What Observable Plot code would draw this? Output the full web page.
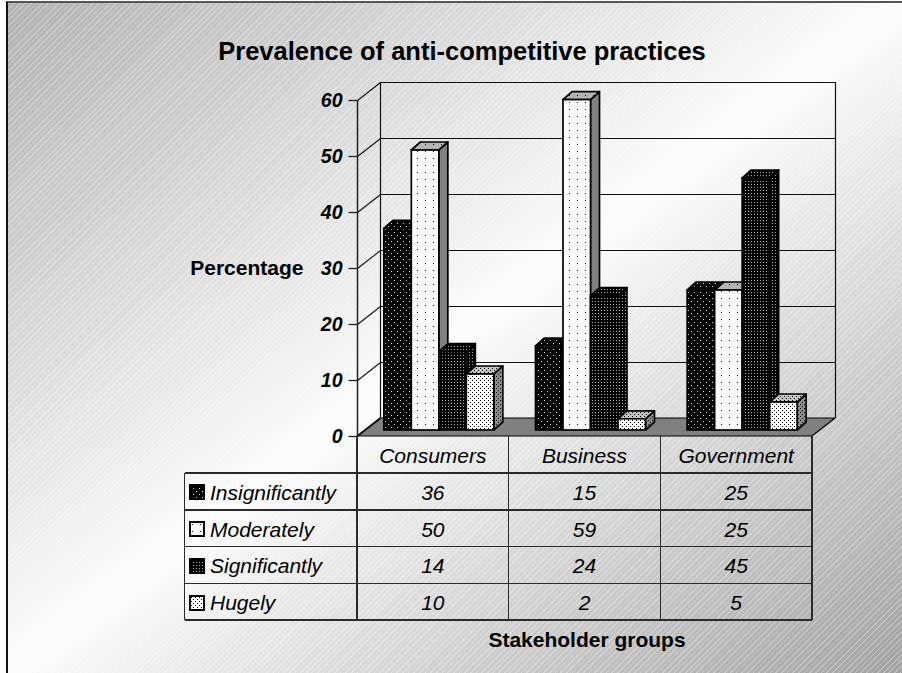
<!DOCTYPE html>
<html><head><meta charset="utf-8">
<script src="https://cdn.jsdelivr.net/npm/d3@7"></script>
<script src="https://cdn.jsdelivr.net/npm/@observablehq/plot@0.6"></script>
<style>
html,body{margin:0;padding:0;}
body{width:902px;height:673px;overflow:hidden;position:relative;font-family:"Liberation Sans",Arial,sans-serif;background:#fff;}
#bg{position:absolute;left:6px;top:1px;right:0;bottom:0;
 background:
  repeating-linear-gradient(135deg, rgba(255,255,255,0.30) 0px, rgba(255,255,255,0.30) 1.2px, rgba(255,255,255,0) 1.2px, rgba(255,255,255,0) 4px),
  linear-gradient(to bottom right, #b0b0b0 0%, #fcfcfc 50%, #a0a0a0 100%);
 border-left:2px solid #111;border-top:2px solid #555;}
#chart{position:absolute;left:0;top:0;}
#chart svg{overflow:visible;}
.ln{position:absolute;background:#2a2a2a;}
.tx{position:absolute;font-style:italic;font-size:21px;color:#000;white-space:nowrap;line-height:1;}
.sw{position:absolute;}
</style></head>
<body>
<svg width="0" height="0" style="position:absolute">
 <defs>
  <pattern id="pI" width="6" height="6" patternUnits="userSpaceOnUse"><rect width="6" height="6" fill="#000"/><rect x="1" y="1" width="1" height="1" fill="#ddd"/><rect x="4" y="4" width="1" height="1" fill="#ddd"/></pattern>
  <pattern id="pM" width="8" height="7" patternUnits="userSpaceOnUse"><rect width="8" height="7" fill="#fff"/><rect x="3" y="3" width="1" height="1" fill="#000"/></pattern>
  <pattern id="pS" width="3" height="3" patternUnits="userSpaceOnUse"><rect width="3" height="3" fill="#000"/><rect x="1" y="1" width="1" height="1" fill="#aaa"/></pattern>
  <pattern id="pH" width="4" height="4" patternUnits="userSpaceOnUse"><rect width="4" height="4" fill="#fff"/><rect x="0" y="0" width="1" height="1" fill="#000"/><rect x="2" y="2" width="1" height="1" fill="#000"/></pattern>
  <pattern id="pMt" width="8" height="7" patternUnits="userSpaceOnUse"><rect width="8" height="7" fill="#b4b4b4"/><rect x="3" y="3" width="1" height="1" fill="#000"/></pattern>
  <pattern id="pHt" width="4" height="4" patternUnits="userSpaceOnUse"><rect width="4" height="4" fill="#c4c4c4"/><rect x="0" y="0" width="1" height="1" fill="#000"/><rect x="2" y="2" width="1" height="1" fill="#000"/></pattern>
  <pattern id="pHs" width="4" height="4" patternUnits="userSpaceOnUse"><rect width="4" height="4" fill="#8c8c8c"/><rect x="0" y="0" width="1" height="1" fill="#000"/><rect x="2" y="2" width="1" height="1" fill="#000"/></pattern>
 </defs>
</svg>
<div id="bg"></div>
<div id="chart"></div>
<div id="table"></div>
<script>
// ---- data ----
const groups = ["Consumers", "Business", "Government"];
const series = ["Insignificantly", "Moderately", "Significantly", "Hugely"];
const insignificantly = [36, 15, 25];
const moderately = [50, 59, 25];
const significantly = [14, 24, 45];
const hugely = [10, 2, 5];
const yTicks = [0, 10, 20, 30, 40, 50, 60];
const title = "Prevalence of anti-competitive practices";
const yLabel = "Percentage";
const xLabel = "Stakeholder groups";

// ---- styles per series ----
const frontFill = ["url(#pI)", "url(#pM)", "url(#pS)", "url(#pH)"];
const topFill   = ["url(#pI)", "url(#pMt)", "url(#pS)", "url(#pHt)"];
const sideFill  = ["url(#pI)", "#808080", "url(#pS)", "url(#pHs)"];

// ---- layout ----
const W = 902, H = 673;
const mL = 357, mR = 90, mT = 100, mB = 237;
const yMax = 60;
const pxX = (W - mL - mR) / groups.length;
const pxY = (H - mT - mB) / yMax;
const wallDX = 23 / pxX, wallDY = 18 / pxY;
const barDX = 9 / pxX, barDY = 8 / pxY;
const barW = 27.5 / pxX;
const pad = (1 - series.length * barW) / 2;
const tickLen = 9 / pxX;

const values = [insignificantly, moderately, significantly, hugely];
const bars = [];
series.forEach((s, j) => groups.forEach((g, i) => {
  const x1 = i + pad + j * barW;
  bars.push({series: s, j, group: g, i, value: values[j][i], x1, x2: x1 + barW});
}));
const sides = bars.flatMap(b => [
  {id: b.series + b.group, j: b.j, x: b.x2, y1: 0, y2: b.value},
  {id: b.series + b.group, j: b.j, x: b.x2 + barDX, y1: barDY, y2: b.value + barDY}
]);
const tops = bars.flatMap(b => [
  {id: b.series + b.group, j: b.j, y: b.value, x1: b.x1, x2: b.x2},
  {id: b.series + b.group, j: b.j, y: b.value + barDY, x1: b.x1 + barDX, x2: b.x2 + barDX}
]);
const nG = groups.length;
const floor = [{y: 0, x1: 0, x2: nG}, {y: wallDY, x1: wallDX, x2: nG + wallDX}];

const bx = 6, by = -6; // bar plane offset (px)
const marks = [
  Plot.areaX(floor, {y: "y", x1: "x1", x2: "x2", fill: "#808080", stroke: "#000", strokeWidth: 1.2}),
  Plot.ruleY(yTicks.filter(t => t > 0), {y: d => d + wallDY, x1: wallDX, x2: nG + wallDX, stroke: "#111", strokeWidth: 1.1}),
  Plot.ruleX([wallDX, nG + wallDX], {x: d => d, y1: wallDY, y2: yMax + wallDY, stroke: "#111", strokeWidth: 1.2}),
  Plot.link(yTicks, {x1: 0, y1: d => d, x2: wallDX, y2: d => d + wallDY, stroke: "#111", strokeWidth: 1.1}),
  Plot.ruleX([0], {y1: 0, y2: yMax, stroke: "#222", strokeWidth: 1.5}),
  Plot.link(yTicks, {x1: -tickLen, x2: 0, y1: d => d, y2: d => d, stroke: "#222", strokeWidth: 1.3}),
  Plot.text(yTicks, {x: 0, y: d => d, text: d => String(d), textAnchor: "end", dx: -15, fontSize: 19.5, fontWeight: "bold", fontStyle: "italic", fill: "#000"})
];
series.forEach((s, j) => marks.push(Plot.areaY(sides.filter(d => d.j === j), {x: "x", y1: "y1", y2: "y2", z: "id", fill: sideFill[j], stroke: "#000", strokeWidth: 1.7, dx: bx, dy: by})));
series.forEach((s, j) => marks.push(Plot.areaX(tops.filter(d => d.j === j), {y: "y", x1: "x1", x2: "x2", z: "id", fill: topFill[j], stroke: "#000", strokeWidth: 1.7, dx: bx, dy: by})));
series.forEach((s, j) => marks.push(Plot.rect(bars.filter(d => d.j === j), {x1: "x1", x2: "x2", y1: 0, y2: "value", fill: frontFill[j], stroke: "#000", strokeWidth: 1.7, dx: bx, dy: by})));
marks.push(Plot.text([title], {frameAnchor: "top", dx: -123, dy: -59, fontSize: 25.5, fontWeight: "bold", fill: "#000"}));
marks.push(Plot.text([yLabel], {frameAnchor: "left", dx: -54, textAnchor: "end", fontSize: 21, fontWeight: "bold", fill: "#000"}));
marks.push(Plot.text([xLabel], {frameAnchor: "bottom", dx: 2, dy: 210, fontSize: 21, fontWeight: "bold", fill: "#000"}));

const chart = Plot.plot({
  width: W, height: H,
  marginLeft: mL, marginRight: mR, marginTop: mT, marginBottom: mB,
  x: {domain: [0, nG], axis: null},
  y: {domain: [0, yMax], axis: null},
  style: {background: "transparent", fontFamily: "'Liberation Sans', Arial, sans-serif", overflow: "visible"},
  marks
});
document.getElementById("chart").appendChild(chart);

// ---- data table (built from the arrays, aligned on the x scale) ----
const xs = chart.scale("x"), ys = chart.scale("y");
const tbl = document.getElementById("table");
const colX = d3.range(nG + 1).map(i => xs.apply(i));
const y0 = ys.apply(0);
const headerH = 37, rowH = 36.75, labelLeft = 184.5, lw = 1.5;
const rowTop = r => y0 + headerH + r * rowH;
const bottom = rowTop(series.length);
function line(x, y, w, h) { const d = document.createElement("div"); d.className = "ln"; Object.assign(d.style, {left: x + "px", top: y + "px", width: w + "px", height: h + "px"}); tbl.appendChild(d); }
function text(str, cx, cy, anchor) {
  const d = document.createElement("div"); d.className = "tx"; d.textContent = str;
  d.style.top = (cy - 10.5) + "px";
  d.style.left = cx + "px";
  if (anchor === "middle") d.style.transform = "translateX(-50%)";
  tbl.appendChild(d);
}
for (let r = 0; r <= series.length; r++) line(labelLeft, rowTop(r) - lw / 2, colX[nG] - labelLeft, lw);
line(labelLeft - lw / 2, rowTop(0), lw, bottom - rowTop(0));
colX.forEach(x => line(x - lw / 2, y0, lw, bottom - y0));
groups.forEach((g, i) => text(g, (colX[i] + colX[i + 1]) / 2, y0 + headerH / 2 + 1, "middle"));
series.forEach((s, r) => {
  const cy = rowTop(r) + rowH / 2 + 1;
  const sw = document.createElementNS("http://www.w3.org/2000/svg", "svg");
  sw.setAttribute("width", 16); sw.setAttribute("height", 16); sw.setAttribute("class", "sw");
  sw.style.left = "189px"; sw.style.top = (cy - 8) + "px";
  const rc = document.createElementNS("http://www.w3.org/2000/svg", "rect");
  rc.setAttribute("x", 1); rc.setAttribute("y", 1); rc.setAttribute("width", 14); rc.setAttribute("height", 14);
  rc.setAttribute("fill", frontFill[r]); rc.setAttribute("stroke", "#000"); rc.setAttribute("stroke-width", 2);
  sw.appendChild(rc); tbl.appendChild(sw);
  text(s, 210, cy, "start");
  values[r].forEach((v, i) => text(String(v), (colX[i] + colX[i + 1]) / 2, cy, "middle"));
});
</script>
</body></html>
